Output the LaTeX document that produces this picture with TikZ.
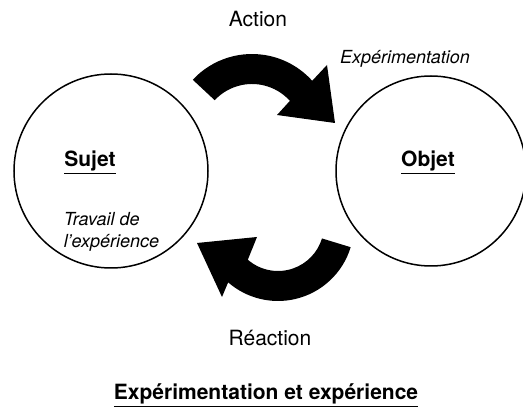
\documentclass[tikz,border=0pt]{standalone}
\usepackage{fontspec}
\setmainfont{TeX Gyre Heros}
\usepackage{tikz}
\tikzset{
    > = latex
}

\begin{document}
\begin{tikzpicture}[x=1pt, y=1pt, line width=1.5pt]
        \tikzstyle{lbl}=[inner sep=0pt, anchor=base, font=\fontsize{21}{25}\selectfont]
        \tikzstyle{titre}=[lbl, font=\fontsize{21}{25}\selectfont\bfseries]
        \tikzstyle{ital}=[inner sep=0pt, anchor=base west, font=\fontsize{18}{22}\selectfont\itshape]
        \tikzstyle{bulle}=[draw, circle, inner sep=0pt]
        \useasboundingbox (0,0) rectangle (523,412);
        \node[bulle, minimum size=194pt] (sujet) at (111,241) {};
        \node[bulle, minimum size=190pt] (objet) at (431,241) {};
        % action
        \fill (192.76,332.24) arc (137:42:81pt) -- (327,347) -- (335,289) -- (277,297)
            -- (289.9,311.13) arc (42:137:51pt) -- cycle;
        % reaction
        \fill (350.68,164.78) arc (-17:-131:76pt) -- (222,115) -- (197,169) -- (257,175)
            -- (247.82,152.28) arc (-131:-17:46pt) -- cycle;
        \node[lbl] (action) at (258,385) {Action};
        \node[ital, anchor=base] (experimentation) at (405,348) {Expérimentation};
        \node[titre] (sujettxt) at (90,245) {\underline{Sujet}};
        \node[titre] (objettxt) at (428,245) {\underline{Objet}};
        \node[ital] (travail) at (63,186) {Travail de};
        \node[ital] (experience) at (63,164) {l'expérience};
        \node[lbl] (reaction) at (270,66) {Réaction};
        \node[titre] (titre) at (266,12) {\underline{Expérimentation et expérience}};
    \end{tikzpicture}
\end{document}
